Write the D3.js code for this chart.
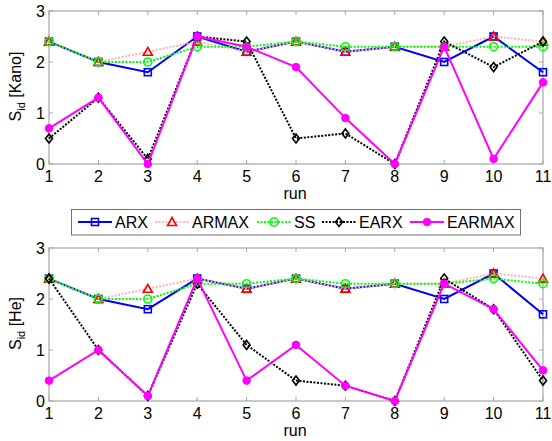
<!DOCTYPE html>
<html>
<head>
<meta charset="utf-8">
<script src="https://cdn.jsdelivr.net/npm/d3@7/dist/d3.min.js"></script>
<style>
  html, body { margin: 0; padding: 0; background: #fff; }
  svg { display: block; font-family: "Liberation Sans", Arial, sans-serif; }
</style>
</head>
<body>
<svg id="chart" width="552" height="441"></svg>
<script>
// Runs 1..11
const runs = [1, 2, 3, 4, 5, 6, 7, 8, 9, 10, 11];
const yTicks = [0, 1, 2, 3];

// Identification score S_id per run, Kano data set
const kanoARX    = [2.4, 2.0, 1.8, 2.5, 2.2, 2.4, 2.2, 2.3, 2.0, 2.5, 1.8];
const kanoARMAX  = [2.4, 2.0, 2.2, 2.4, 2.2, 2.4, 2.2, 2.3, 2.3, 2.5, 2.4];
const kanoSS     = [2.4, 2.0, 2.0, 2.3, 2.3, 2.4, 2.3, 2.3, 2.3, 2.3, 2.3];
const kanoEARX   = [0.5, 1.3, 0.1, 2.5, 2.4, 0.5, 0.6, 0.0, 2.4, 1.9, 2.4];
const kanoEARMAX = [0.7, 1.3, 0.0, 2.5, 2.3, 1.9, 0.9, 0.0, 2.3, 0.1, 1.6];

// Identification score S_id per run, He data set
const heARX    = [2.4, 2.0, 1.8, 2.4, 2.2, 2.4, 2.2, 2.3, 2.0, 2.5, 1.7];
const heARMAX  = [2.4, 2.0, 2.2, 2.4, 2.2, 2.4, 2.2, 2.3, 2.3, 2.5, 2.4];
const heSS     = [2.4, 2.0, 2.0, 2.3, 2.3, 2.4, 2.3, 2.3, 2.3, 2.4, 2.3];
const heEARX   = [2.4, 1.0, 0.1, 2.3, 1.1, 0.4, 0.3, 0.0, 2.4, 1.8, 0.4];
const heEARMAX = [0.4, 1.0, 0.1, 2.4, 0.4, 1.1, 0.3, 0.0, 2.3, 1.8, 0.6];

const seriesNames = ["ARX", "ARMAX", "SS", "EARX", "EARMAX"];

// Line and marker styling for each method
const styles = {
  ARX:    { line: "#0000ff", marker: "#0000ff", dash: null,    shape: "square",   fill: "none" },
  ARMAX:  { line: "#ffb4b4", marker: "#ff0000", dash: "2,1.5", shape: "triangle", fill: "none" },
  SS:     { line: "#00ff00", marker: "#00ff00", dash: "2,1.5", shape: "circle",   fill: "none" },
  EARX:   { line: "#000000", marker: "#000000", dash: "2,1.5", shape: "diamond",  fill: "none" },
  EARMAX: { line: "#ff00ff", marker: "#ff00ff", dash: null,    shape: "dot",      fill: "#ff00ff" }
};

const svg = d3.select("#chart");
const left = 49, right = 543;
const axisColor = "#a6a6a6";

const x = d3.scaleLinear().domain([1, 11]).range([left, right]);

function drawMarker(g, shape, cx, cy, st) {
  if (shape === "square") {
    g.append("rect").attr("x", cx - 3.5).attr("y", cy - 3.5).attr("width", 7).attr("height", 7)
      .attr("fill", "none").attr("stroke", st.marker).attr("stroke-width", 1.6);
  } else if (shape === "triangle") {
    g.append("path").attr("d", `M${cx},${cy - 4.5}L${cx + 4.5},${cy + 3.5}L${cx - 4.5},${cy + 3.5}Z`)
      .attr("fill", "none").attr("stroke", st.marker).attr("stroke-width", 1.6);
  } else if (shape === "circle") {
    g.append("circle").attr("cx", cx).attr("cy", cy).attr("r", 4)
      .attr("fill", "none").attr("stroke", st.marker).attr("stroke-width", 1.6);
  } else if (shape === "diamond") {
    g.append("path").attr("d", `M${cx},${cy - 4.5}L${cx + 3.5},${cy}L${cx},${cy + 4.5}L${cx - 3.5},${cy}Z`)
      .attr("fill", "none").attr("stroke", st.marker).attr("stroke-width", 1.6);
  } else if (shape === "dot") {
    g.append("circle").attr("cx", cx).attr("cy", cy).attr("r", 3.8)
      .attr("fill", st.fill).attr("stroke", st.marker).attr("stroke-width", 1);
  }
}

function panel(top, bottom, label, dataBySeries) {
  const y = d3.scaleLinear().domain([0, 3]).range([bottom, top]);
  const g = svg.append("g");

  // Axis box with inward ticks on all four sides
  g.append("rect").attr("x", left).attr("y", top).attr("width", right - left).attr("height", bottom - top)
    .attr("fill", "#fff").attr("stroke", axisColor).attr("stroke-width", 1.2);

  const ticks = g.append("g").attr("stroke", axisColor).attr("stroke-width", 1);
  runs.forEach(r => {
    ticks.append("line").attr("x1", x(r)).attr("x2", x(r)).attr("y1", bottom).attr("y2", bottom - 4);
    ticks.append("line").attr("x1", x(r)).attr("x2", x(r)).attr("y1", top).attr("y2", top + 4);
  });
  yTicks.forEach(t => {
    ticks.append("line").attr("x1", left).attr("x2", left + 4).attr("y1", y(t)).attr("y2", y(t));
    ticks.append("line").attr("x1", right).attr("x2", right - 4).attr("y1", y(t)).attr("y2", y(t));
  });

  // Tick labels
  g.append("g").selectAll("text").data(runs).join("text")
    .attr("x", d => x(d)).attr("y", bottom + 18)
    .attr("text-anchor", "middle").attr("font-size", 16).attr("fill", "#000")
    .text(d => d);
  g.append("g").selectAll("text").data(yTicks).join("text")
    .attr("x", left - 4).attr("y", d => y(d) + 6)
    .attr("text-anchor", "end").attr("font-size", 16).attr("fill", "#000")
    .text(d => d);

  // Axis titles
  g.append("text").attr("x", (left + right) / 2 - 1).attr("y", bottom + 35)
    .attr("text-anchor", "middle").attr("font-size", 16).text("run");
  const yl = g.append("text")
    .attr("transform", `translate(21,${(top + bottom) / 2 - 1}) rotate(-90)`)
    .attr("text-anchor", "middle").attr("font-size", 16);
  yl.append("tspan").text("S");
  yl.append("tspan").attr("font-size", 11).attr("dy", 4).text("id");
  yl.append("tspan").attr("dy", -4).text(" [" + label + "]");

  // Series lines and markers
  const line = d3.line().x((d, i) => x(runs[i])).y(d => y(d));
  seriesNames.forEach(name => {
    const st = styles[name];
    const vals = dataBySeries[name];
    g.append("path").attr("d", line(vals)).attr("fill", "none")
      .attr("stroke", st.line).attr("stroke-width", 2)
      .attr("stroke-dasharray", st.dash);
    const mg = g.append("g");
    vals.forEach((v, i) => drawMarker(mg, st.shape, x(runs[i]), y(v), st));
  });
}

panel(11, 164, "Kano", {
  ARX: kanoARX, ARMAX: kanoARMAX, SS: kanoSS, EARX: kanoEARX, EARMAX: kanoEARMAX
});
panel(248, 401, "He", {
  ARX: heARX, ARMAX: heARMAX, SS: heSS, EARX: heEARX, EARMAX: heEARMAX
});

// Legend
const lg = svg.append("g");
lg.append("rect").attr("x", 71.5).attr("y", 209.5).attr("width", 449).attr("height", 25.5)
  .attr("fill", "#fff").attr("stroke", "#707070").attr("stroke-width", 1);
const legendX = [78, 155, 257, 322, 410];
seriesNames.forEach((name, i) => {
  const st = styles[name];
  const x0 = legendX[i], ly = 222;
  lg.append("line").attr("x1", x0).attr("x2", x0 + 34).attr("y1", ly).attr("y2", ly)
    .attr("stroke", st.line).attr("stroke-width", 2).attr("stroke-dasharray", st.dash);
  drawMarker(lg, st.shape, x0 + 17, ly, st);
  lg.append("text").attr("x", x0 + 37).attr("y", ly + 6).attr("font-size", 16).text(name);
});
</script>
</body>
</html>
